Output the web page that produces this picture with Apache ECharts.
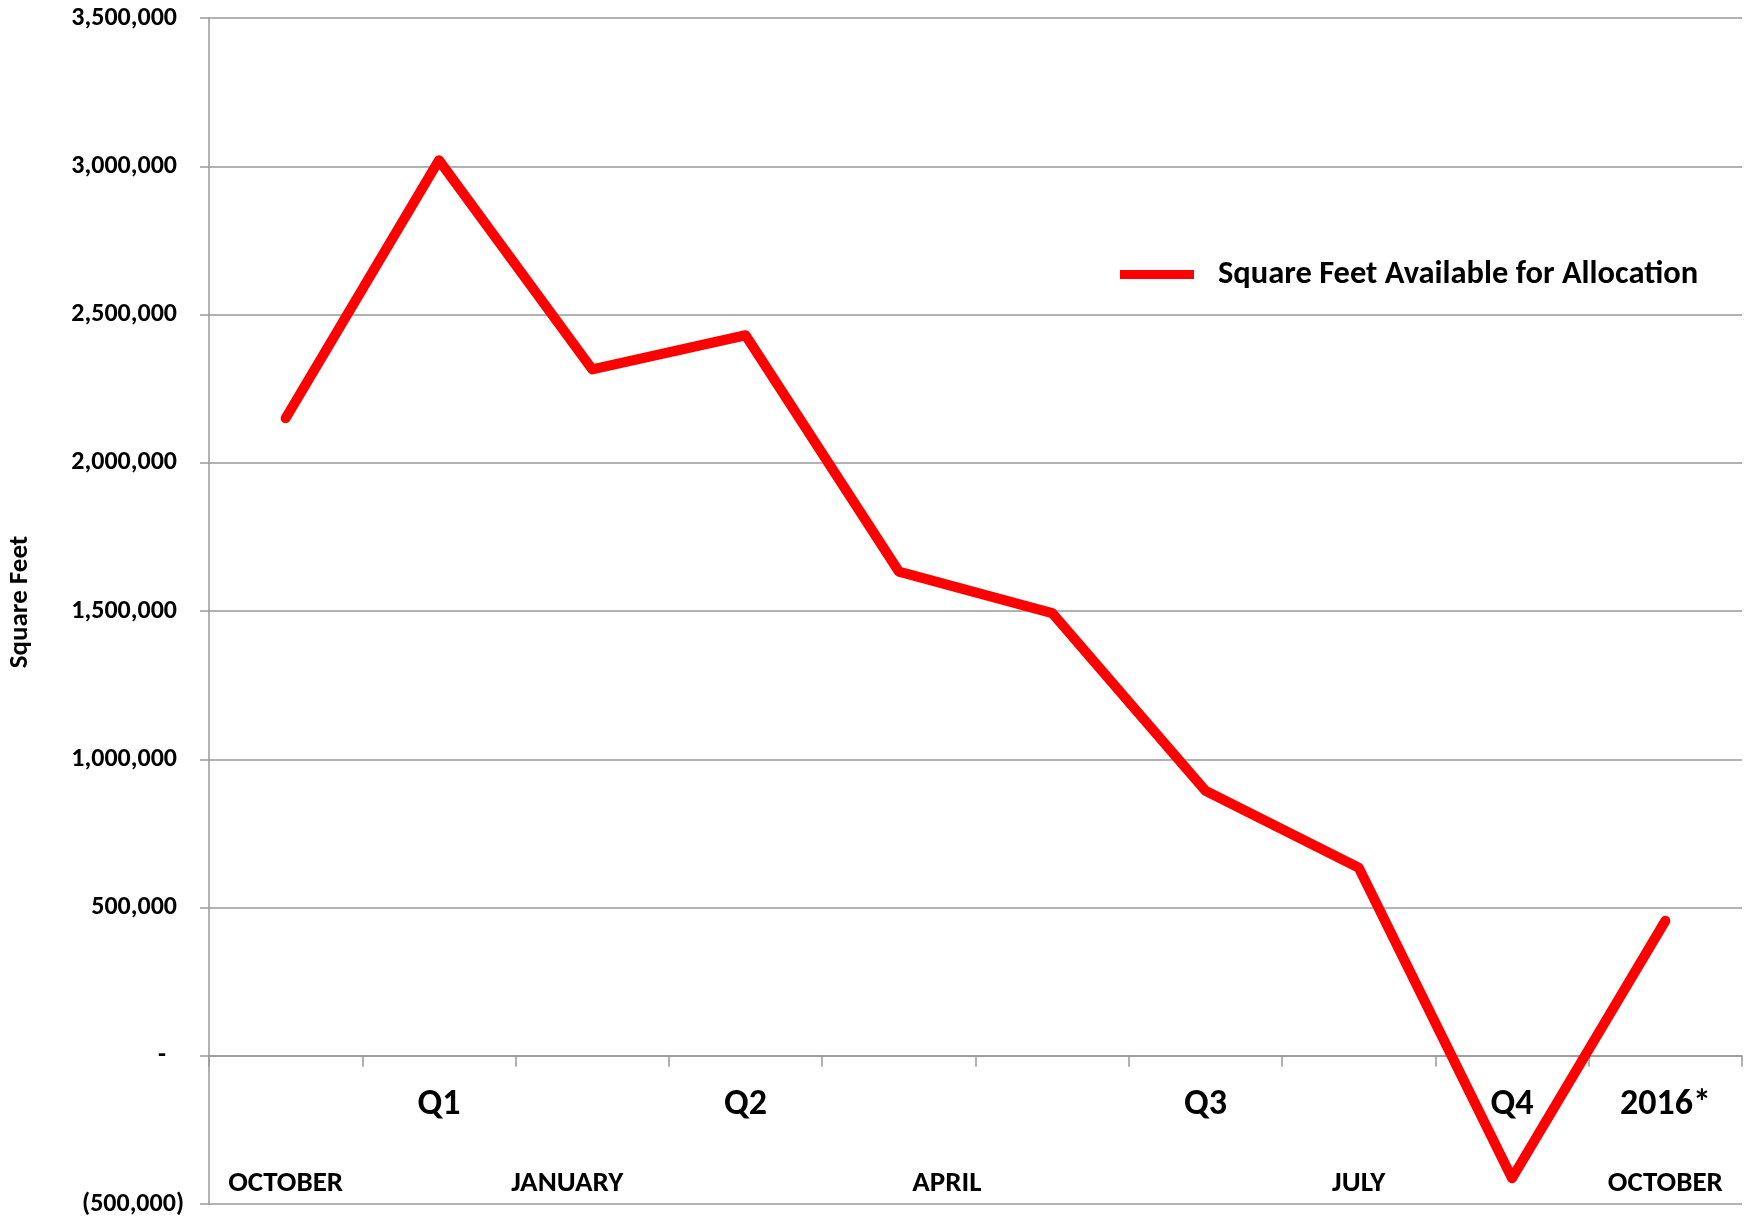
<!DOCTYPE html>
<html>
<head>
<meta charset="utf-8">
<title>Square Feet Available for Allocation</title>
<script src="https://cdn.jsdelivr.net/npm/echarts@6/dist/echarts.min.js"></script>
<style>
  html, body { margin: 0; padding: 0; background: #ffffff; }
  #chart { width: 1753px; height: 1217px; }
</style>
</head>
<body>
<div id="chart"></div>
<script>
// values
const quarterLabels = ['', 'Q1', '', 'Q2', '', '', 'Q3', '', 'Q4', '2016*'];
const monthLabels = ['OCTOBER', '', 'JANUARY', '', 'APRIL', '', '', 'JULY', '', 'OCTOBER'];
const squareFeet = [2150000, 3020000, 2315000, 2430000, 1633000, 1493000, 894000, 634000, -413000, 455000];
const yMin = -500000;
const yMax = 3500000;
const yStep = 500000;
const seriesName = 'Square Feet Available for Allocation';
const yAxisTitle = 'Square Feet';

const font = 'Carlito, Lato, sans-serif';
const gridGray = '#999999';

const chart = echarts.init(document.getElementById('chart'));

function fmtNumber(v) {
  if (v === 0) return '{z|-}';
  const s = Math.abs(v).toLocaleString('en-US');
  return v < 0 ? '{n|(' + s + ')}' : '{p|' + s + '}';
}

let options = {
  animation: false,
  backgroundColor: '#ffffff',
  textStyle: { fontFamily: font },
  grid: {
    left: 209,
    right: 11,
    top: 18,
    bottom: 13,
    containLabel: false,
    outerBoundsMode: 'none'
  },
  legend: {
    show: true,
    left: 1115,
    top: 253,
    icon: 'rect',
    itemWidth: 74,
    itemHeight: 9,
    itemStyle: { color: '#ff0000' },
    textStyle: {
      fontFamily: font,
      fontWeight: 'bold',
      fontSize: 32.5,
      color: '#000000',
      padding: [0, 0, 0, 19]
    },
    data: [seriesName]
  },
  xAxis: {
    type: 'category',
    boundaryGap: true,
    data: quarterLabels.map((q, i) => String(i)),
    axisLine: {
      show: true,
      onZero: true,
      lineStyle: { color: gridGray, width: 1.5 }
    },
    axisTick: {
      show: true,
      length: 11,
      interval: 0,
      lineStyle: { color: gridGray, width: 1.5 }
    },
    axisLabel: {
      interval: 0,
      // labels are laid out from the bottom edge of the grid, so pull them up
      // into the band between the zero line and the -500,000 line
      margin: -164,
      hideOverlap: false,
      formatter: function (value, index) {
        const q = quarterLabels[index];
        const m = monthLabels[index];
        let mStyle = 'm';
        // the month row sits a little off the category centres in the original
        if (m === 'JANUARY') mStyle = 'mLeft';
        if (m === 'APRIL') mStyle = 'mRight';
        return '{q|' + (q || ' ') + '}\n{' + mStyle + '|' + (m || ' ') + '}';
      },
      rich: {
        q: { fontFamily: font, fontWeight: 'bold', fontSize: 36, color: '#000', lineHeight: 129, align: 'center' },
        m: { fontFamily: font, fontWeight: 'bold', fontSize: 29, color: '#000', lineHeight: 30, align: 'center' },
        mLeft: { fontFamily: font, fontWeight: 'bold', fontSize: 29, color: '#000', lineHeight: 30, align: 'center', padding: [0, 50, 0, 0] },
        mRight: { fontFamily: font, fontWeight: 'bold', fontSize: 29, color: '#000', lineHeight: 30, align: 'center', padding: [0, 0, 0, 96] }
      }
    },
    splitLine: { show: false }
  },
  yAxis: {
    type: 'value',
    min: yMin,
    max: yMax,
    interval: yStep,
    name: yAxisTitle,
    nameLocation: 'middle',
    nameGap: 175,
    nameRotate: 90,
    nameTextStyle: {
      fontFamily: font,
      fontWeight: 'bold',
      fontSize: 27,
      color: '#000000',
      padding: [0, 0, 0, 18]
    },
    axisLine: {
      show: true,
      lineStyle: { color: gridGray, width: 1.5 }
    },
    axisTick: {
      show: true,
      length: 9,
      lineStyle: { color: gridGray, width: 1.5 }
    },
    axisLabel: {
      margin: 25,
      formatter: fmtNumber,
      rich: {
        p: { fontFamily: font, fontWeight: 'bold', fontSize: 26, color: '#000', padding: [0, 7, 0, 0] },
        n: { fontFamily: font, fontWeight: 'bold', fontSize: 26, color: '#000' },
        z: { fontFamily: font, fontWeight: 'bold', fontSize: 26, color: '#000', padding: [0, 18, 0, 0] }
      }
    },
    splitLine: {
      show: true,
      lineStyle: { color: gridGray, width: 1.5 }
    }
  },
  series: [
    {
      name: seriesName,
      type: 'line',
      data: squareFeet,
      showSymbol: false,
      symbol: 'none',
      lineStyle: {
        color: '#ff0000',
        width: 10,
        cap: 'round',
        join: 'round'
      },
      itemStyle: { color: '#ff0000' }
    }
  ]
};

chart.setOption(options);
window.onresize = () => {
  chart.resize();
};
</script>
</body>
</html>
